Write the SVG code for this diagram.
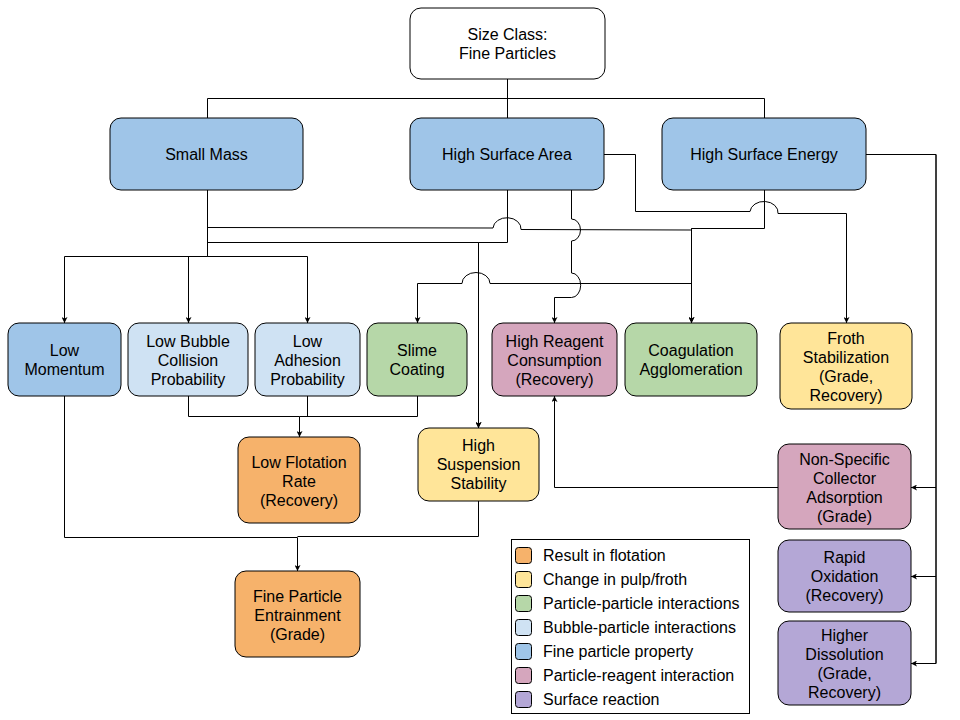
<svg xmlns="http://www.w3.org/2000/svg" width="960" height="720" viewBox="0 0 960 720">
<style>
.n{stroke:#000;stroke-width:1}
.t{font-family:"Liberation Sans",Arial,sans-serif;font-size:16px;text-anchor:middle;fill:#000}
.lt{font-family:"Liberation Sans",Arial,sans-serif;font-size:16px;fill:#000}
.c{fill:none;stroke:#000;stroke-width:1}
.a{marker-end:url(#arr)}
.prop{fill:#9fc5e8}.bub{fill:#cfe2f3}.pp{fill:#b6d7a8}.pr{fill:#d5a6bd}.chg{fill:#ffe599}.res{fill:#f6b26b}.sr{fill:#b4a7d6}
</style>
<defs>
<marker id="arr" markerWidth="6" markerHeight="6" refX="6" refY="3" orient="auto" markerUnits="userSpaceOnUse">
<path d="M0,0 L6,3 L0,6 L1.5,3 z" fill="#000"/>
</marker>
</defs>
<rect width="960" height="720" fill="#fff"/>
<g id="connectors">
<path class="c" d="M507.5,79 V98.5 M207.5,98.5 H764.5 M207.5,98.5 V118 M507.5,98.5 V118 M764.5,98.5 V118"/>
<path class="c a" d="M207.5,190 V256.5 H64.5 V323"/>
<path class="c a" d="M207.5,256.5 H188.5 V323"/>
<path class="c a" d="M207.5,256.5 H307.5 V323"/>
<path class="c a" d="M207.5,227.5 L493,228 A14,11 0 0 1 521,229.5 L691.5,230 V323"/>
<path class="c a" d="M207.5,242.5 H478.5 V428"/>
<path class="c a" d="M507.5,190 V242.5 H478.5 V428"/>
<path class="c a" d="M571.5,190 V219 A9,11 0 0 1 571.5,241 V273 A9,12 0 0 1 571.5,297.5 H554.5 V323"/>
<path class="c a" d="M604,154.5 H635.5 V211.5 H750 A14,11 0 0 1 778,213.5 H846.5 V323"/>
<path class="c a" d="M764.5,190 V228.5 H691.5 V323"/>
<path class="c a" d="M691.5,228.5 V283.5 H490 A14,11 0 0 0 462,283.5 H417.5 V323"/>
<path class="c a" d="M866,154.5 H936 V663.5 H911"/>
<path class="c a" d="M936,487.5 H911"/>
<path class="c a" d="M936,576.5 H911"/>
<path class="c" d="M936,154.5 V663.5" stroke-width="2"/>
<path class="c a" d="M778,487.5 H554.5 V396"/>
<path class="c a" d="M188.5,396 V416.5 H299.5 V437"/>
<path class="c" d="M307.5,396 V416.5 M417.5,396 V416.5 H299.5"/>
<path class="c a" d="M64.5,396 V537.5 H297.5 V571"/>
<path class="c" d="M478.5,501 V536.5 H297.5"/>
</g>
<g id="size-class">
<rect class="n" x="410" y="8" width="195" height="71" rx="11" fill="#fff"/>
<text class="t" x="507.5" y="39.5">Size Class:</text>
<text class="t" x="507.5" y="58.5">Fine Particles</text>
</g>
<g id="small-mass">
<rect class="n prop" x="110" y="118" width="193" height="72" rx="11"/>
<text class="t" x="206.5" y="159.5">Small Mass</text>
</g>
<g id="high-surface-area">
<rect class="n prop" x="410" y="118" width="194" height="72" rx="11"/>
<text class="t" x="507" y="159.5">High Surface Area</text>
</g>
<g id="high-surface-energy">
<rect class="n prop" x="662" y="118" width="204" height="72" rx="11"/>
<text class="t" x="764" y="159.5">High Surface Energy</text>
</g>
<g id="low-momentum">
<rect class="n prop" x="8" y="323" width="113" height="73" rx="11"/>
<text class="t" x="64.5" y="356">Low</text>
<text class="t" x="64.5" y="375">Momentum</text>
</g>
<g id="low-bubble-collision">
<rect class="n bub" x="128" y="323" width="120" height="73" rx="11"/>
<text class="t" x="188" y="346.5">Low Bubble</text>
<text class="t" x="188" y="365.5">Collision</text>
<text class="t" x="188" y="384.5">Probability</text>
</g>
<g id="low-adhesion">
<rect class="n bub" x="255" y="323" width="105" height="73" rx="11"/>
<text class="t" x="307.5" y="346.5">Low</text>
<text class="t" x="307.5" y="365.5">Adhesion</text>
<text class="t" x="307.5" y="384.5">Probability</text>
</g>
<g id="slime-coating">
<rect class="n pp" x="367" y="323" width="100" height="73" rx="11"/>
<text class="t" x="417" y="356">Slime</text>
<text class="t" x="417" y="375">Coating</text>
</g>
<g id="high-reagent">
<rect class="n pr" x="492" y="323" width="125" height="73" rx="11"/>
<text class="t" x="554.5" y="346.5">High Reagent</text>
<text class="t" x="554.5" y="365.5">Consumption</text>
<text class="t" x="554.5" y="384.5">(Recovery)</text>
</g>
<g id="coagulation">
<rect class="n pp" x="625" y="323" width="132" height="73" rx="11"/>
<text class="t" x="691" y="356">Coagulation</text>
<text class="t" x="691" y="375">Agglomeration</text>
</g>
<g id="froth-stabilization">
<rect class="n chg" x="780" y="323" width="132" height="86" rx="11"/>
<text class="t" x="846" y="344">Froth</text>
<text class="t" x="846" y="363">Stabilization</text>
<text class="t" x="846" y="382">(Grade,</text>
<text class="t" x="846" y="401">Recovery)</text>
</g>
<g id="low-flotation-rate">
<rect class="n res" x="238" y="437" width="122" height="86" rx="11"/>
<text class="t" x="299" y="467.5">Low Flotation</text>
<text class="t" x="299" y="486.5">Rate</text>
<text class="t" x="299" y="505.5">(Recovery)</text>
</g>
<g id="high-suspension">
<rect class="n chg" x="418" y="428" width="121" height="73" rx="11"/>
<text class="t" x="478.5" y="451">High</text>
<text class="t" x="478.5" y="470">Suspension</text>
<text class="t" x="478.5" y="489">Stability</text>
</g>
<g id="non-specific">
<rect class="n pr" x="778" y="444" width="133" height="85" rx="11"/>
<text class="t" x="844.5" y="464.5">Non-Specific</text>
<text class="t" x="844.5" y="483.5">Collector</text>
<text class="t" x="844.5" y="502.5">Adsorption</text>
<text class="t" x="844.5" y="521.5">(Grade)</text>
</g>
<g id="rapid-oxidation">
<rect class="n sr" x="778" y="540" width="133" height="72" rx="11"/>
<text class="t" x="844.5" y="563">Rapid</text>
<text class="t" x="844.5" y="582">Oxidation</text>
<text class="t" x="844.5" y="601">(Recovery)</text>
</g>
<g id="higher-dissolution">
<rect class="n sr" x="778" y="621" width="133" height="84" rx="11"/>
<text class="t" x="844.5" y="640.5">Higher</text>
<text class="t" x="844.5" y="659.5">Dissolution</text>
<text class="t" x="844.5" y="678.5">(Grade,</text>
<text class="t" x="844.5" y="697.5">Recovery)</text>
</g>
<g id="fine-particle-entrainment">
<rect class="n res" x="235" y="571" width="125" height="86" rx="11"/>
<text class="t" x="297.5" y="601.5">Fine Particle</text>
<text class="t" x="297.5" y="620.5">Entrainment</text>
<text class="t" x="297.5" y="639.5">(Grade)</text>
</g>
<g id="legend">
<rect x="511.5" y="539.5" width="238" height="174" fill="#fff" stroke="#000" stroke-width="1"/>
<rect class="n res" x="515.5" y="547.5" width="16" height="16" rx="3"/>
<text class="lt" x="543" y="561">Result in flotation</text>
<rect class="n chg" x="515.5" y="571.5" width="16" height="16" rx="3"/>
<text class="lt" x="543" y="585">Change in pulp/froth</text>
<rect class="n pp" x="515.5" y="595.5" width="16" height="16" rx="3"/>
<text class="lt" x="543" y="609">Particle-particle interactions</text>
<rect class="n bub" x="515.5" y="619.5" width="16" height="16" rx="3"/>
<text class="lt" x="543" y="633">Bubble-particle interactions</text>
<rect class="n prop" x="515.5" y="643.5" width="16" height="16" rx="3"/>
<text class="lt" x="543" y="657">Fine particle property</text>
<rect class="n pr" x="515.5" y="667.5" width="16" height="16" rx="3"/>
<text class="lt" x="543" y="681">Particle-reagent interaction</text>
<rect class="n sr" x="515.5" y="691.5" width="16" height="16" rx="3"/>
<text class="lt" x="543" y="705">Surface reaction</text>
</g>
</svg>
